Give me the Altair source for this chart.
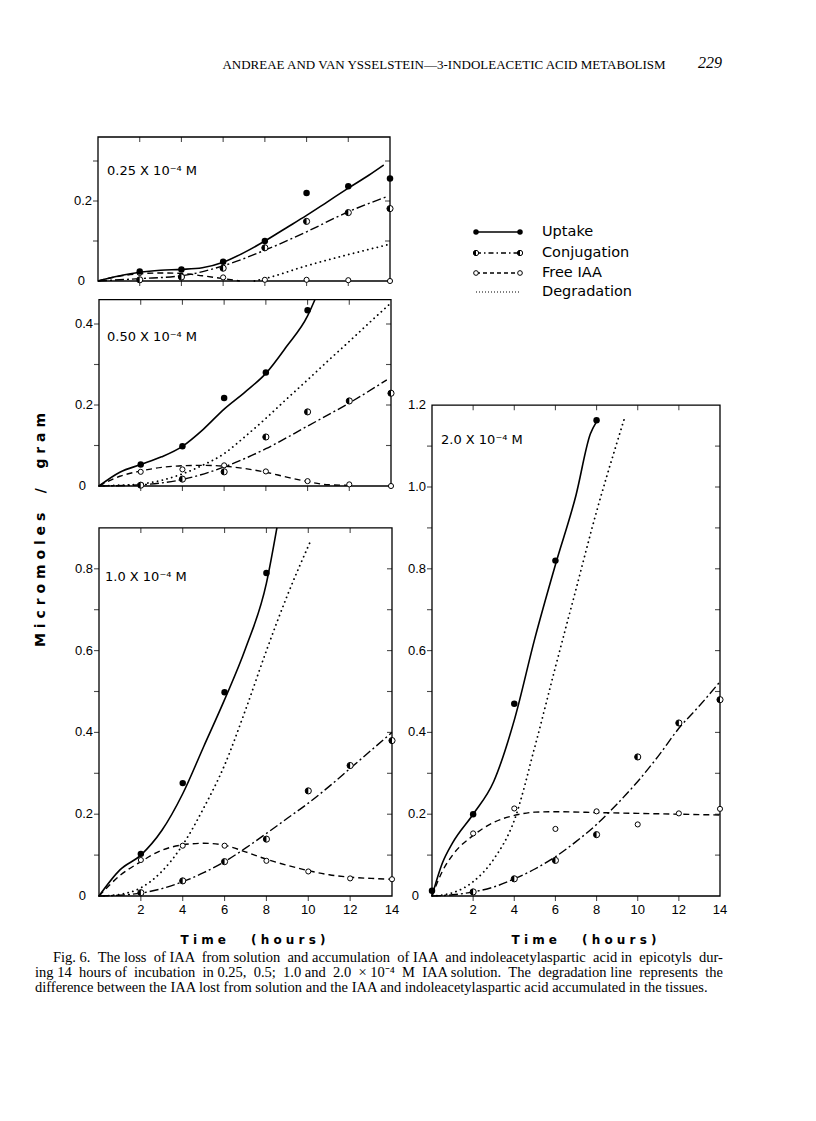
import altair as alt
import pandas as pd

# ---------------- data ----------------
# Panel A : 0.25 x 10^-4 M
A_UP_T = [2, 4, 6, 8, 10, 12, 14]
A_UP_V = [0.024, 0.029, 0.048, 0.100, 0.220, 0.237, 0.256]
A_UPC_T = [0, 1, 2, 3, 4, 5, 6, 7, 8, 9, 10, 11, 12, 13, 13.7]
A_UPC_V = [0, 0.0125, 0.022, 0.027, 0.029, 0.033, 0.047, 0.071, 0.100, 0.132, 0.164, 0.198, 0.232, 0.265, 0.290]
A_CO_T = [2, 4, 6, 8, 10, 12, 14]
A_CO_V = [0.003, 0.010, 0.032, 0.083, 0.149, 0.171, 0.181]
A_COC_T = [0, 2, 4, 6, 8, 10, 12, 13.8]
A_COC_V = [0, 0.006, 0.013, 0.038, 0.077, 0.123, 0.173, 0.210]
A_FR_T = [2, 4, 6, 8, 10, 12, 14]
A_FR_V = [0.020, 0.010, 0.009, 0.003, 0.003, 0.002, 0.0]
A_FRC_T = [0, 1, 2, 3, 4, 5, 6, 6.8]
A_FRC_V = [0, 0.012, 0.018, 0.020, 0.019, 0.013, 0.006, 0.0]
A_DGC_T = [7.5, 8, 10, 12, 14]
A_DGC_V = [0, 0.006, 0.038, 0.066, 0.092]

# Panel B : 0.50 x 10^-4 M
B_UP_T = [2, 4, 6, 8, 10]
B_UP_V = [0.053, 0.098, 0.217, 0.280, 0.434]
B_UPC_T = [0, 1, 2, 3, 4, 5, 6, 7, 8, 9, 10, 10.35]
B_UPC_V = [0, 0.034, 0.053, 0.072, 0.098, 0.140, 0.190, 0.232, 0.278, 0.345, 0.420, 0.460]
B_CO_T = [2, 4, 6, 8, 10, 12, 14]
B_CO_V = [0.002, 0.017, 0.035, 0.121, 0.183, 0.210, 0.229]
B_COC_T = [0, 2, 4, 6, 8, 10, 12, 13.8]
B_COC_V = [0, 0.003, 0.016, 0.047, 0.092, 0.148, 0.205, 0.262]
B_FR_T = [2, 4, 6, 8, 10, 12, 14]
B_FR_V = [0.035, 0.041, 0.051, 0.036, 0.012, 0.004, 0.0]
B_FRC_T = [0, 1, 2, 3, 4, 5, 6, 7, 8, 9, 10, 11, 12]
B_FRC_V = [0, 0.024, 0.037, 0.046, 0.050, 0.051, 0.049, 0.043, 0.034, 0.022, 0.011, 0.003, 0.002]
B_DGC_T = [0, 1, 2, 3, 4, 5, 6, 7, 8, 9, 10, 11, 12, 13, 14]
B_DGC_V = [0, 0.002, 0.005, 0.014, 0.030, 0.052, 0.080, 0.122, 0.167, 0.215, 0.262, 0.310, 0.357, 0.405, 0.452]

# Panel C : 1.0 x 10^-4 M
C_UP_T = [2, 4, 6, 8]
C_UP_V = [0.103, 0.276, 0.498, 0.790]
C_UPC_T = [0, 1, 2, 3, 4, 5, 6, 7, 8, 8.5]
C_UPC_V = [0, 0.064, 0.100, 0.160, 0.250, 0.365, 0.480, 0.605, 0.765, 0.900]
C_CO_T = [2, 4, 6, 8, 10, 12, 14]
C_CO_V = [0.008, 0.037, 0.084, 0.139, 0.257, 0.319, 0.380]
C_COC_T = [0, 1, 2, 3, 4, 5, 6, 7, 8, 9, 10, 11, 12, 13, 14]
C_COC_V = [0, 0.002, 0.007, 0.018, 0.035, 0.057, 0.084, 0.117, 0.153, 0.190, 0.227, 0.268, 0.312, 0.356, 0.400]
C_FR_T = [2, 4, 6, 8, 10, 12, 14]
C_FR_V = [0.088, 0.123, 0.123, 0.086, 0.060, 0.043, 0.041]
C_FRC_T = [0, 1, 2, 3, 4, 5, 6, 7, 8, 9, 10, 11, 12, 13, 14]
C_FRC_V = [0, 0.050, 0.084, 0.112, 0.125, 0.129, 0.124, 0.108, 0.090, 0.075, 0.062, 0.052, 0.046, 0.043, 0.041]
C_DGC_T = [0, 1, 2, 3, 4, 5, 6, 7, 8, 9, 10.1]
C_DGC_V = [0, 0.004, 0.020, 0.060, 0.125, 0.215, 0.320, 0.455, 0.600, 0.735, 0.867]

# Panel D : 2.0 x 10^-4 M
D_UP_T = [0, 2, 4, 6, 8]
D_UP_V = [0.013, 0.200, 0.470, 0.820, 1.163]
D_UPC_T = [0, 0.5, 1, 2, 3, 4, 5, 6, 7, 7.7, 8]
D_UPC_V = [0, 0.080, 0.130, 0.200, 0.280, 0.430, 0.630, 0.810, 0.980, 1.130, 1.160]
D_CO_T = [2, 4, 6, 8, 10, 12, 14]
D_CO_V = [0.010, 0.042, 0.087, 0.150, 0.340, 0.423, 0.480]
D_COC_T = [0, 1, 2, 3, 4, 5, 6, 7, 8, 9, 10, 11, 12, 13, 14]
D_COC_V = [0, 0.003, 0.010, 0.022, 0.042, 0.066, 0.096, 0.133, 0.175, 0.225, 0.280, 0.342, 0.410, 0.465, 0.524]
D_FR_T = [2, 4, 6, 8, 10, 12, 14]
D_FR_V = [0.153, 0.214, 0.164, 0.207, 0.175, 0.202, 0.213]
D_FRC_T = [0, 0.5, 1, 2, 3, 4, 5, 6, 8, 10, 12, 14]
D_FRC_V = [0, 0.060, 0.100, 0.148, 0.180, 0.197, 0.205, 0.206, 0.204, 0.202, 0.200, 0.198]
D_DGC_T = [0, 1, 2, 3, 4, 5, 6, 7, 8, 9, 9.4]
D_DGC_V = [0, 0.008, 0.035, 0.090, 0.185, 0.365, 0.560, 0.750, 0.940, 1.110, 1.175]

# axis ticks / labels
X_TICKS = [0, 2, 4, 6, 8, 10, 12, 14]
X_LABELS = ["2", "4", "6", "8", "10", "12", "14"]
A_YLAB = ["0", "0.2"]
B_YLAB = ["0", "0.2", "0.4"]
C_YLAB = ["0", "0.2", "0.4", "0.6", "0.8"]
D_YLAB = ["0", "0.2", "0.4", "0.6", "0.8", "1.0", "1.2"]
PANEL_TITLES = ["0.25 X 10\u207b\u2074 M", "0.50 X 10\u207b\u2074 M", "1.0 X 10\u207b\u2074 M", "2.0 X 10\u207b\u2074 M"]
LEGEND = ["Uptake", "Conjugation", "Free IAA", "Degradation"]
HEADER = "ANDREAE AND VAN YSSELSTEIN\u20143-INDOLEACETIC ACID METABOLISM"
PAGE_NO = "229"
Y_TITLE = "Micromoles / gram"
X_TITLE = "Time (hours)"
CAPTION = [
    "Fig. 6. The loss of IAA from solution and accumulation of IAA and indoleacetylaspartic acid in epicotyls dur-",
    "ing 14 hours of incubation in 0.25, 0.5; 1.0 and 2.0 \u00d7 10\u207b\u2074 M IAA solution. The degradation line represents the",
    "difference between the IAA lost from solution and the IAA and indoleacetylaspartic acid accumulated in the tissues.",
]

# ---------------- layout (chart pixel coordinates) ----------------
GEOM = {
    "A": dict(x0=90, x1=382, y0=273, ymax=0.36, ppu=400, xlab=False, tpos=(99, 163)),
    "B": dict(x0=91, x1=383, y0=478, ymax=0.46, ppu=405, xlab=False, tpos=(99, 329)),
    "C": dict(x0=91, x1=384, y0=888, ymax=0.90, ppu=409, xlab=True, tpos=(97, 569)),
    "D": dict(x0=424, x1=712, y0=888, ymax=1.20, ppu=409, xlab=True, tpos=(433, 432)),
}
SERIES = {
    "A": (A_UP_T, A_UP_V, A_UPC_T, A_UPC_V, A_CO_T, A_CO_V, A_COC_T, A_COC_V, A_FR_T, A_FR_V, A_FRC_T, A_FRC_V, A_DGC_T, A_DGC_V, A_YLAB),
    "B": (B_UP_T, B_UP_V, B_UPC_T, B_UPC_V, B_CO_T, B_CO_V, B_COC_T, B_COC_V, B_FR_T, B_FR_V, B_FRC_T, B_FRC_V, B_DGC_T, B_DGC_V, B_YLAB),
    "C": (C_UP_T, C_UP_V, C_UPC_T, C_UPC_V, C_CO_T, C_CO_V, C_COC_T, C_COC_V, C_FR_T, C_FR_V, C_FRC_T, C_FRC_V, C_DGC_T, C_DGC_V, C_YLAB),
    "D": (D_UP_T, D_UP_V, D_UPC_T, D_UPC_V, D_CO_T, D_CO_V, D_COC_T, D_COC_V, D_FR_T, D_FR_V, D_FRC_T, D_FRC_V, D_DGC_T, D_DGC_V, D_YLAB),
}

HALF = "M0,-1A1,1 0 0,0 0,1Z"
DASH_CONJ = [9, 3, 2, 3]
DASH_FREE = [6, 4]
DASH_DEG = [0.1, 4.8]
LABEL_FONT = "Liberation Sans"
SANS = "DejaVu Sans"
NB = "\u00a0"


def spaced(s, gap=1, wordgap=5):
    """letter-spaced text made with non-breaking spaces"""
    words = s.split(" ")
    return (NB * wordgap).join((NB * gap).join(list(w)) for w in words)


def spread(s, extra):
    """widen the word gaps of a line (imitates justified type)"""
    parts = s.split(" ")
    gaps = len(parts) - 1
    out = parts[0]
    for i, p in enumerate(parts[1:]):
        n = extra * (i + 1) // gaps - extra * i // gaps
        out += " " + NB * n + p
    return out


def panel(key, title):
    g = GEOM[key]
    (upt, upv, upct, upcv, cot, cov, coct, cocv, frt, frv, frct, frcv, dgt, dgv, ylab) = SERIES[key]
    xs = alt.Scale(domain=[0, 14], range=[g["x0"], g["x1"]], nice=False, zero=False)
    ys = alt.Scale(domain=[0, g["ymax"]], range=[g["y0"], g["y0"] - g["ymax"] * g["ppu"]], nice=False, zero=False)

    def X(f):
        return alt.X(f, type="quantitative", scale=xs, axis=None)

    def Y(f):
        return alt.Y(f, type="quantitative", scale=ys, axis=None)

    def df(t, v):
        return pd.DataFrame({"t": t, "v": v})

    layers = []
    # frame
    layers.append(
        alt.Chart(pd.DataFrame({"a": [0], "b": [14], "c": [0], "d": [g["ymax"]]}))
        .mark_rect(fill="transparent", stroke="black", strokeWidth=1.3)
        .encode(x=X("a"), x2=alt.X2("b"), y=Y("c"), y2=alt.Y2("d"))
    )
    # y ticks every 0.1 (left outside, right inside)
    yt = [round(i * 0.1, 2) for i in range(1, 20) if i * 0.1 < g["ymax"] - 1e-6]
    ytdf = pd.DataFrame({"v": yt * 2, "t": [0] * len(yt) + [14] * len(yt)})
    layers.append(
        alt.Chart(ytdf).mark_tick(orient="horizontal", size=5, thickness=1.1, xOffset=-2.5, color="black")
        .encode(x=X("t"), y=Y("v"))
    )
    # x ticks (bottom outside, top inside)
    xt = X_TICKS[1:-1]
    xtdf = pd.DataFrame({"t": xt * 2, "v": [0] * len(xt) + [g["ymax"]] * len(xt)})
    layers.append(
        alt.Chart(xtdf).mark_tick(orient="vertical", size=5, thickness=1.1, yOffset=2.5, color="black")
        .encode(x=X("t"), y=Y("v"))
    )
    # y labels
    ylv = [float(s) for s in ylab]
    yldf = pd.DataFrame({"v": ylv[1:], "lab": ylab[1:], "t": [0] * (len(ylab) - 1)})
    layers.append(
        alt.Chart(yldf).mark_text(align="right", baseline="middle", dx=-6, font=LABEL_FONT, fontSize=13, color="black")
        .encode(x=X("t"), y=Y("v"), text="lab:N")
    )
    layers.append(
        alt.Chart(pd.DataFrame({"v": [0], "lab": [ylab[0]], "t": [0]}))
        .mark_text(align="right", baseline="middle", dx=-13, font=LABEL_FONT, fontSize=13, color="black")
        .encode(x=X("t"), y=Y("v"), text="lab:N")
    )
    if g["xlab"]:
        xldf = pd.DataFrame({"t": X_TICKS[1:], "lab": X_LABELS, "v": [0] * len(X_LABELS)})
        layers.append(
            alt.Chart(xldf).mark_text(align="center", baseline="middle", dy=14, font=LABEL_FONT, fontSize=13, color="black")
            .encode(x=X("t"), y=Y("v"), text="lab:N")
        )
    # curves
    layers.append(alt.Chart(df(dgt, dgv)).mark_line(interpolate="monotone", strokeDash=DASH_DEG, strokeWidth=1.8, strokeCap="round", color="black").encode(x=X("t"), y=Y("v")))
    layers.append(alt.Chart(df(frct, frcv)).mark_line(interpolate="monotone", strokeDash=DASH_FREE, strokeWidth=1.4, color="black").encode(x=X("t"), y=Y("v")))
    layers.append(alt.Chart(df(coct, cocv)).mark_line(interpolate="monotone", strokeDash=DASH_CONJ, strokeWidth=1.4, color="black").encode(x=X("t"), y=Y("v")))
    layers.append(alt.Chart(df(upct, upcv)).mark_line(interpolate="monotone", strokeWidth=1.6, color="black").encode(x=X("t"), y=Y("v")))
    # points
    layers.append(alt.Chart(df(frt, frv)).mark_point(shape="circle", filled=True, fill="white", stroke="black", strokeWidth=1, size=26, opacity=1).encode(x=X("t"), y=Y("v")))
    layers.append(alt.Chart(df(cot, cov)).mark_point(shape="circle", filled=True, fill="white", stroke="black", strokeWidth=1, size=38, opacity=1).encode(x=X("t"), y=Y("v")))
    layers.append(alt.Chart(df(cot, cov)).mark_point(shape=HALF, filled=True, fill="black", strokeWidth=0, size=38, opacity=1).encode(x=X("t"), y=Y("v")))
    layers.append(alt.Chart(df(upt, upv)).mark_point(shape="circle", filled=True, color="black", size=42, opacity=1).encode(x=X("t"), y=Y("v")))
    # panel title
    layers.append(
        alt.Chart(pd.DataFrame({"a": [0]})).mark_text(align="left", baseline="middle", font=SANS, fontSize=13, color="black")
        .encode(x=alt.value(g["tpos"][0]), y=alt.value(g["tpos"][1]), text=alt.value(title))
    )
    return alt.layer(*layers)


panels = [panel(k, t) for k, t in zip(["A", "B", "C", "D"], PANEL_TITLES)]

one = pd.DataFrame({"a": [0]})


def txt(x, y, s, **kw):
    return alt.Chart(one).mark_text(color="black", **kw).encode(x=alt.value(x), y=alt.value(y), text=alt.value(s))


annots = []
# header
annots.append(txt(436, 57, HEADER, align="center", baseline="middle", font="Liberation Serif", fontSize=13))
annots.append(txt(702, 55, PAGE_NO, align="center", baseline="middle", font="Liberation Serif", fontSize=16, fontStyle="italic"))
# axis titles
annots.append(txt(33, 522, spaced(Y_TITLE, 1, 4), align="center", baseline="middle", angle=270, font=SANS, fontSize=14, fontWeight="bold"))
for cx in (245, 576):
    annots.append(txt(cx, 932, spaced(X_TITLE, 1, 6), align="center", baseline="middle", font=SANS, fontSize=12, fontWeight="bold"))
# legend
LEG_Y = [224, 245, 265, 284]
LX0, LX1, LTX = 468, 512, 534
annots.append(alt.Chart(one).mark_rule(color="black", strokeWidth=1.6).encode(x=alt.value(LX0), x2=alt.value(LX1), y=alt.value(LEG_Y[0])))
annots.append(alt.Chart(one).mark_rule(color="black", strokeWidth=1.3, strokeDash=[5, 3, 1.5, 3]).encode(x=alt.value(LX0), x2=alt.value(LX1), y=alt.value(LEG_Y[1])))
annots.append(alt.Chart(one).mark_rule(color="black", strokeWidth=1.3, strokeDash=[4, 3]).encode(x=alt.value(LX0), x2=alt.value(LX1), y=alt.value(LEG_Y[2])))
annots.append(alt.Chart(one).mark_rule(color="black", strokeWidth=1.2, strokeDash=[1, 2]).encode(x=alt.value(LX0), x2=alt.value(LX1), y=alt.value(LEG_Y[3])))
for xx in (LX0, LX1):
    annots.append(alt.Chart(one).mark_point(shape="circle", filled=True, color="black", size=30, opacity=1).encode(x=alt.value(xx), y=alt.value(LEG_Y[0])))
    annots.append(alt.Chart(one).mark_point(shape="circle", filled=True, fill="white", stroke="black", strokeWidth=1, size=28, opacity=1).encode(x=alt.value(xx), y=alt.value(LEG_Y[1])))
    annots.append(alt.Chart(one).mark_point(shape=HALF, filled=True, fill="black", strokeWidth=0, size=28, opacity=1).encode(x=alt.value(xx), y=alt.value(LEG_Y[1])))
    annots.append(alt.Chart(one).mark_point(shape="circle", filled=True, fill="white", stroke="black", strokeWidth=1, size=22, opacity=1).encode(x=alt.value(xx), y=alt.value(LEG_Y[2])))
for yy, s in zip(LEG_Y, LEGEND):
    annots.append(txt(LTX, yy, s, align="left", baseline="middle", font=SANS, fontSize=14.5))
# caption
CAP_POS = [(45, 950, 9), (27, 965, 13), (27, 980, 0)]
for (cx, cy, extra), s in zip(CAP_POS, CAPTION):
    annots.append(txt(cx, cy, spread(s, extra), align="left", baseline="middle", font="Liberation Serif", fontSize=14.5))

chart = (
    alt.layer(*panels, *annots)
    .resolve_scale(x="independent", y="independent")
    .properties(width=800, height=1105, padding=0, autosize=alt.AutoSizeParams(type="none"))
    .configure_view(stroke=None)
)

chart.save("out.html", embed_options={"renderer": "svg", "actions": False})
